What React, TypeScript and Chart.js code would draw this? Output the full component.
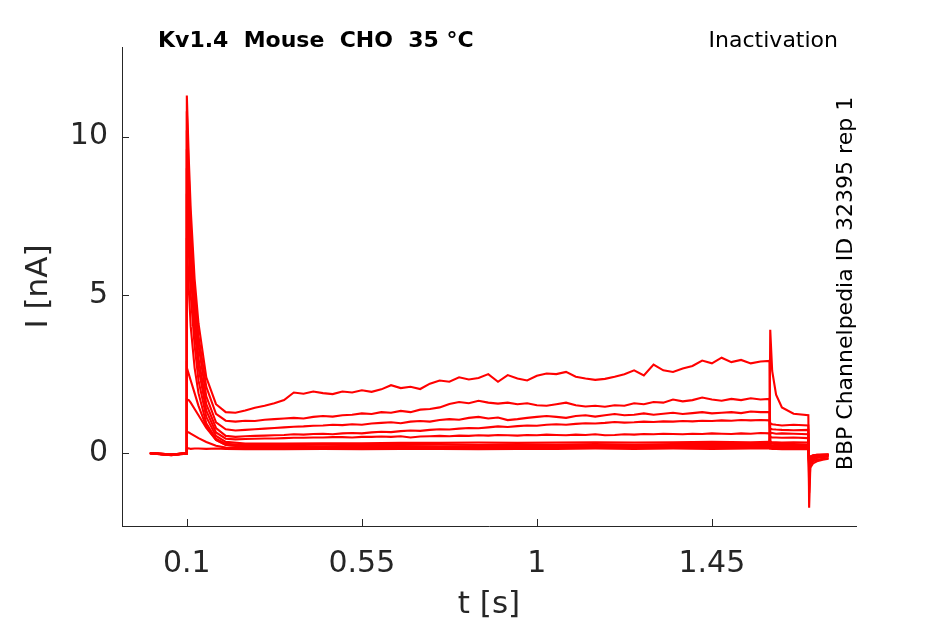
import { useEffect, useRef } from 'react';
import { Chart, ChartConfiguration, Plugin, registerables } from 'chart.js';

Chart.register(...registerables);

// time bases [s]
const tPre = [0.005, 0.03, 0.06, 0.099];
const tRise = [0.1, 0.105, 0.11, 0.12, 0.13, 0.15, 0.175, 0.2];
const tHold = [
  0.225, 0.25, 0.275, 0.3, 0.325, 0.35, 0.375, 0.4, 0.425, 0.45, 0.475, 0.5, 0.525, 0.55,
  0.575, 0.6, 0.625, 0.65, 0.675, 0.7, 0.725, 0.75, 0.775, 0.8, 0.825, 0.85, 0.875, 0.9,
  0.925, 0.95, 0.975, 1.0, 1.025, 1.05, 1.075, 1.1, 1.125, 1.15, 1.175, 1.2, 1.225, 1.25,
  1.275, 1.3, 1.325, 1.35, 1.375, 1.4, 1.425, 1.45, 1.475, 1.5, 1.525, 1.55, 1.575, 1.598,
];
const tHoldCoarse = [0.25, 0.35, 0.45, 0.55, 0.65, 0.75, 0.85, 0.95, 1.05, 1.15, 1.25, 1.35, 1.45, 1.55, 1.598];
const tTest = [1.6, 1.605, 1.615, 1.63, 1.66, 1.698];
const tTail = [1.7, 1.703, 1.71, 1.72, 1.735, 1.75];

const xTicks = [0.1, 0.55, 1, 1.45];
const yTicks = [0, 5, 10];

// current [nA] per sweep
const sweep01 = {
  pre: [0, -0.02, -0.05, 0],
  rise: [11.3, 9.3, 7.7, 5.5, 4.1, 2.4, 1.55, 1.3],
  hold: [
    1.28, 1.35, 1.44, 1.5, 1.58, 1.68, 1.92, 1.88, 1.95, 1.9, 1.87, 1.95, 1.92, 1.99,
    1.94, 2.02, 2.15, 2.06, 2.1, 2.03, 2.2, 2.3, 2.26, 2.4, 2.33, 2.38, 2.5, 2.26,
    2.47, 2.36, 2.3, 2.45, 2.52, 2.5, 2.57, 2.42, 2.36, 2.32, 2.35, 2.42, 2.5, 2.62,
    2.46, 2.8, 2.62, 2.57, 2.68, 2.76, 2.93, 2.84, 3.02, 2.88, 2.95, 2.84, 2.9, 2.92,
  ],
  test: [0.15, 0.14, 0.14, 0.13, 0.14, 0.13],
  tail: [-0.3, -0.1, -0.06, -0.05, -0.04, -0.03],
};
const sweep02 = {
  pre: [0.01, -0.01, -0.04, 0.01],
  rise: [10.8, 8.8, 7.2, 5.1, 3.7, 2.1, 1.25, 1.03],
  hold: [
    1.0, 1.03, 1.02, 1.06, 1.08, 1.1, 1.12, 1.1, 1.15, 1.18, 1.16, 1.2, 1.22, 1.26,
    1.24, 1.3, 1.28, 1.34, 1.3, 1.38, 1.4, 1.45, 1.56, 1.62, 1.58, 1.66, 1.6, 1.57,
    1.6, 1.55, 1.58, 1.52, 1.5, 1.55, 1.6, 1.52, 1.48, 1.5, 1.47, 1.52, 1.5, 1.58,
    1.55, 1.62, 1.6, 1.7, 1.64, 1.68, 1.76, 1.7, 1.66, 1.72, 1.68, 1.74, 1.7, 1.72,
  ],
  test: [0.18, 0.17, 0.17, 0.16, 0.17, 0.16],
  tail: [-0.32, -0.11, -0.07, -0.05, -0.05, -0.04],
};
const sweep03 = {
  pre: [0, -0.03, -0.05, -0.01],
  rise: [10.2, 8.3, 6.7, 4.7, 3.4, 1.8, 0.98, 0.76],
  hold: [
    0.72, 0.74, 0.76, 0.78, 0.8, 0.82, 0.84, 0.85, 0.87, 0.88, 0.9, 0.89, 0.92, 0.9,
    0.94, 0.96, 0.98, 0.95, 1.0, 1.02, 1.0, 1.05, 1.08, 1.06, 1.12, 1.15, 1.1, 1.13,
    1.05, 1.08, 1.12, 1.15, 1.18, 1.15, 1.12, 1.18, 1.2, 1.16, 1.2, 1.24, 1.2, 1.22,
    1.26, 1.22, 1.25, 1.28, 1.24, 1.27, 1.3, 1.26, 1.28, 1.3, 1.27, 1.32, 1.3, 1.3,
  ],
  test: [0.22, 0.21, 0.2, 0.21, 0.2, 0.2],
  tail: [-0.34, -0.12, -0.08, -0.06, -0.05, -0.05],
};
const sweep04 = {
  pre: [0.01, -0.02, -0.04, 0],
  rise: [9.6, 7.7, 6.2, 4.3, 3.0, 1.55, 0.8, 0.55],
  hold: [
    0.52, 0.54, 0.55, 0.56, 0.57, 0.58, 0.6, 0.59, 0.61, 0.62, 0.6, 0.63, 0.64, 0.63,
    0.66, 0.68, 0.67, 0.7, 0.72, 0.71, 0.74, 0.76, 0.75, 0.78, 0.8, 0.79, 0.82, 0.85,
    0.83, 0.86, 0.88, 0.87, 0.9, 0.92, 0.9, 0.93, 0.95, 0.94, 0.96, 0.99, 0.97, 0.98,
    1.0, 0.99, 1.01, 1.0, 1.02, 1.01, 1.03, 1.02, 1.04, 1.03, 1.05, 1.04, 1.05, 1.04,
  ],
  test: [0.25, 0.25, 0.24, 0.25, 0.24, 0.24],
  tail: [-0.36, -0.13, -0.09, -0.07, -0.06, -0.06],
};
const sweep05 = {
  pre: [0, -0.02, -0.06, 0],
  rise: [9.0, 7.1, 5.7, 3.9, 2.7, 1.35, 0.66, 0.46],
  hold: [
    0.44, 0.45, 0.46, 0.47, 0.47, 0.48, 0.49, 0.49, 0.5, 0.5, 0.51, 0.51, 0.5, 0.52,
    0.52, 0.53, 0.52, 0.54, 0.5, 0.53, 0.54, 0.55, 0.54, 0.56, 0.55, 0.57, 0.56, 0.58,
    0.57, 0.56, 0.58, 0.57, 0.59, 0.58, 0.57, 0.59, 0.58, 0.6, 0.57, 0.58, 0.6, 0.59,
    0.61, 0.6, 0.62, 0.61, 0.6, 0.62, 0.61, 0.63, 0.62, 0.61, 0.63, 0.62, 0.64, 0.63,
  ],
  test: [0.3, 0.3, 0.29, 0.3, 0.29, 0.28],
  tail: [-0.4, -0.14, -0.1, -0.08, -0.07, -0.06],
};
const sweep06 = {
  pre: [0.01, -0.01, -0.05, 0],
  rise: [8.2, 6.4, 5.0, 3.4, 2.3, 1.15, 0.55, 0.36],
  hold: [0.31, 0.31, 0.32, 0.32, 0.33, 0.33, 0.34, 0.33, 0.34, 0.35, 0.34, 0.35, 0.36, 0.35, 0.36],
  test: [0.36, 0.35, 0.35, 0.34, 0.35, 0.34],
  tail: [-0.45, -0.15, -0.1, -0.08, -0.06, -0.05],
};
const sweep07 = {
  pre: [0, -0.03, -0.04, 0.01],
  rise: [6.8, 5.2, 4.0, 2.7, 1.9, 0.95, 0.46, 0.3],
  hold: [0.26, 0.26, 0.27, 0.26, 0.27, 0.28, 0.27, 0.28, 0.28, 0.29, 0.28, 0.29, 0.29, 0.3, 0.29],
  test: [0.52, 0.5, 0.5, 0.49, 0.5, 0.48],
  tail: [-0.55, -0.2, -0.12, -0.1, -0.08, -0.06],
};
const sweep08 = {
  pre: [0.01, -0.02, -0.05, -0.01],
  rise: [2.7, 2.5, 2.3, 1.9, 1.5, 0.85, 0.42, 0.26],
  hold: [0.22, 0.21, 0.22, 0.22, 0.23, 0.22, 0.23, 0.23, 0.24, 0.23, 0.24, 0.24, 0.25, 0.24, 0.25],
  test: [0.65, 0.64, 0.62, 0.63, 0.62, 0.6],
  tail: [-0.75, -0.25, -0.15, -0.12, -0.1, -0.08],
};
const sweep09 = {
  pre: [0, -0.02, -0.06, 0],
  rise: [1.7, 1.68, 1.6, 1.4, 1.2, 0.8, 0.42, 0.27],
  hold: [0.19, 0.18, 0.19, 0.19, 0.2, 0.19, 0.2, 0.2, 0.2, 0.21, 0.2, 0.21, 0.21, 0.22, 0.21],
  test: [0.78, 0.76, 0.75, 0.74, 0.73, 0.74],
  tail: [-0.95, -0.3, -0.2, -0.15, -0.12, -0.1],
};
const sweep10 = {
  pre: [0.01, -0.01, -0.04, 0],
  rise: [0.68, 0.66, 0.62, 0.55, 0.48, 0.36, 0.24, 0.18],
  hold: [0.16, 0.15, 0.16, 0.16, 0.16, 0.17, 0.16, 0.17, 0.17, 0.17, 0.18, 0.17, 0.18, 0.18, 0.18],
  test: [0.95, 0.92, 0.9, 0.88, 0.9, 0.88],
  tail: [-1.25, -0.36, -0.25, -0.2, -0.17, -0.15],
};
const sweep11 = {
  pre: [0, -0.02, -0.05, 0],
  rise: [0.15, 0.16, 0.14, 0.15, 0.15, 0.14, 0.15, 0.14],
  hold: [0.13, 0.13, 0.14, 0.13, 0.14, 0.14, 0.13, 0.14, 0.14, 0.15, 0.14, 0.15, 0.14, 0.15, 0.15],
  test: [3.9, 2.6, 1.85, 1.45, 1.25, 1.2],
  tail: [-1.72, -0.45, -0.32, -0.25, -0.2, -0.17],
};

const sweeps = [sweep01, sweep02, sweep03, sweep04, sweep05, sweep06, sweep07, sweep08, sweep09, sweep10, sweep11];

const FONT = "'DejaVu Sans', sans-serif";
const AXIS = '#262626';

type Sweep = typeof sweep01;

function toPoints(s: Sweep) {
  const holdT = s.hold.length === tHold.length ? tHold : tHoldCoarse;
  const t = [...tPre, ...tRise, ...holdT, ...tTest, ...tTail];
  const y = [...s.pre, ...s.rise, ...s.hold, ...s.test, ...s.tail];
  return t.map((x, i) => ({ x, y: y[i] }));
}

// MATLAB-style inward tick marks
const inwardTicks: Plugin = {
  id: 'inwardTicks',
  afterDraw(chart) {
    const { ctx, chartArea } = chart;
    const xs = chart.scales.x;
    const ys = chart.scales.y;
    ctx.save();
    ctx.strokeStyle = AXIS;
    ctx.lineWidth = 1;
    ctx.beginPath();
    xTicks.forEach((v) => {
      const px = Math.round(xs.getPixelForValue(v)) + 0.5;
      ctx.moveTo(px, chartArea.bottom);
      ctx.lineTo(px, chartArea.bottom - 7);
    });
    yTicks.forEach((v) => {
      const py = Math.round(ys.getPixelForValue(v)) + 0.5;
      ctx.moveTo(chartArea.left, py);
      ctx.lineTo(chartArea.left + 7, py);
    });
    ctx.stroke();
    ctx.restore();
  },
};

const annotations: Plugin = {
  id: 'annotations',
  afterDraw(chart) {
    const { ctx, chartArea } = chart;
    ctx.save();
    ctx.fillStyle = '#000';
    ctx.textBaseline = 'alphabetic';
    ctx.font = `bold 22px ${FONT}`;
    ctx.textAlign = 'left';
    ctx.fillText('Kv1.4  Mouse  CHO  35 °C', chartArea.left + 36, chartArea.top);
    ctx.font = `22px ${FONT}`;
    ctx.textAlign = 'right';
    ctx.fillText('Inactivation', chartArea.right - 18, chartArea.top);
    ctx.translate(chartArea.right - 4, (chartArea.top + chartArea.bottom) / 2 - 3);
    ctx.rotate(-Math.PI / 2);
    ctx.font = `22px ${FONT}`;
    ctx.textAlign = 'center';
    ctx.fillText('BBP Channelpedia ID 32395 rep 1', 0, 0);
    ctx.restore();
  },
};

export default function App() {
  const canvasRef = useRef<HTMLCanvasElement>(null);
  const chartRef = useRef<Chart | null>(null);

  useEffect(() => {
    if (!canvasRef.current) return;
    if (chartRef.current) chartRef.current.destroy();

    const config: ChartConfiguration = {
      type: 'line',
      data: {
        datasets: sweeps.map((s, i) => ({
          label: `sweep ${i + 1}`,
          data: toPoints(s),
          borderColor: '#ff0000',
          borderWidth: 2.1,
          pointRadius: 0,
          tension: 0,
          fill: false,
        })),
      },
      options: {
        responsive: false,
        animation: false,
        devicePixelRatio: 1,
        parsing: false,
        layout: { padding: { left: 0, top: 47, right: 89, bottom: 0 } },
        plugins: {
          legend: { display: false },
          tooltip: { enabled: false },
        },
        scales: {
          x: {
            type: 'linear',
            min: -0.0667,
            max: 1.8205,
            afterFit: (s) => { s.height = 98; },
            afterBuildTicks: (s) => { s.ticks = xTicks.map((value) => ({ value })); },
            grid: { display: false, drawTicks: false },
            border: { display: true, color: AXIS, width: 1 },
            ticks: {
              padding: 20,
              color: AXIS,
              font: { family: FONT, size: 30 },
              callback: (v) => String(v),
            },
            title: {
              display: true,
              text: 't [s]',
              color: AXIS,
              font: { family: FONT, size: 31 },
              padding: { top: 0, bottom: 0 },
            },
          },
          y: {
            type: 'linear',
            min: -2.295,
            max: 12.83,
            afterFit: (s) => { s.width = 122; },
            afterBuildTicks: (s) => { s.ticks = yTicks.map((value) => ({ value })); },
            grid: { display: false, drawTicks: false },
            border: { display: true, color: AXIS, width: 1 },
            ticks: {
              padding: 14,
              color: AXIS,
              font: { family: FONT, size: 30 },
              callback: (v) => String(v),
            },
            title: {
              display: true,
              text: 'I [nA]',
              color: AXIS,
              font: { family: FONT, size: 31 },
              padding: { top: 20, bottom: 0 },
            },
          },
        },
      },
      plugins: [inwardTicks, annotations],
    };

    chartRef.current = new Chart(canvasRef.current, config);

    return () => {
      if (chartRef.current) {
        chartRef.current.destroy();
        chartRef.current = null;
      }
    };
  }, []);

  return (
    <div style={{ position: 'fixed', left: 0, top: 0, width: 945, height: 624, background: '#fff' }}>
      <canvas ref={canvasRef} width={945} height={624} />
    </div>
  );
}
